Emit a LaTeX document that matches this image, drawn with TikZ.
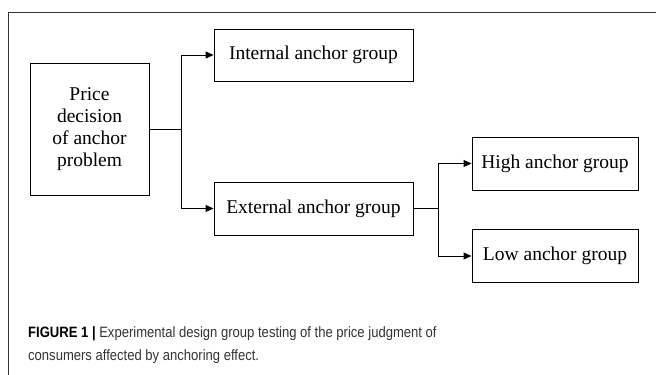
\documentclass[tikz,border=0pt]{standalone}
\usepackage{fontspec}
\setmainfont{Liberation Serif}
\setsansfont{Liberation Sans}
\newfontfamily\capfont[FakeStretch=0.87]{Liberation Sans}
\usetikzlibrary{arrows.meta}
\begin{document}
\begin{tikzpicture}[x=1pt,y=-1pt,
  box/.style={draw,line width=0.9pt,inner sep=0pt,font=\fontsize{19.5}{22}\selectfont},
  conn/.style={line width=0.9pt},
  arr/.style={line width=0.9pt,-{Triangle[length=8pt,width=7pt]}},
  captext/.style={anchor=base west,inner sep=0pt,font=\capfont\fontsize{15}{23}\selectfont,text=black!80}]
\useasboundingbox (0,0) rectangle (657,375);
\draw[line width=0.9pt,black!80] (8,375) -- (8,12) -- (656,12);
\node[box,minimum width=119pt,minimum height=132pt,align=center] (price) at (89.5,129) {Price\\decision\\of anchor\\problem};
\node[box,minimum width=199pt,minimum height=52pt] (internal) at (313.5,55) {Internal anchor group};
\node[box,minimum width=199pt,minimum height=53pt] (external) at (313.5,208.5) {External anchor group};
\node[box,minimum width=166pt,minimum height=53pt] (high) at (555,163.5) {High anchor group};
\node[box,minimum width=166pt,minimum height=53pt] (low) at (555,256) {Low anchor group};
\coordinate (j1) at (181,129);
\coordinate (j2) at (438,208.5);
\draw[conn] (price.east) -- (j1);
\draw[arr] (j1) |- (internal.west);
\draw[arr] (j1) |- (external.west);
\draw[conn] (external.east) -- (j2);
\draw[arr] (j2) |- (high.west);
\draw[arr] (j2) |- (low.west);
\node[captext] (cap1) at (28,337) {\textcolor{black}{\bfseries FIGURE 1 |} Experimental design group testing of the price judgment of};
\node[captext] (cap2) at (28,360) {consumers affected by anchoring effect.};
\end{tikzpicture}
\end{document}
